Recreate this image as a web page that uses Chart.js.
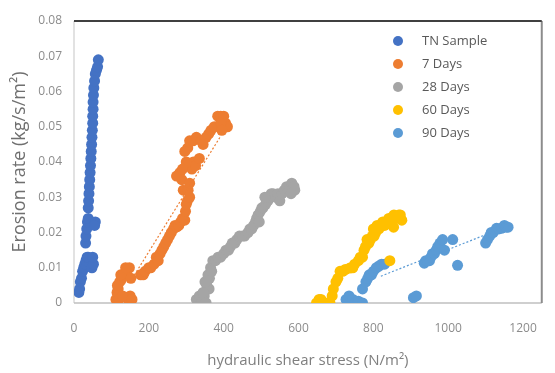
<!DOCTYPE html>
<html>
<head>
<meta charset="utf-8">
<script src="https://cdn.jsdelivr.net/npm/chart.js@4.4.1/dist/chart.umd.min.js"></script>
<style>
  html, body { margin: 0; padding: 0; background: #fff; }
  #wrap { width: 555px; height: 373px; }
</style>
</head>
<body>
<div id="wrap"><canvas id="c"></canvas></div>
<script>
const labels = ['TN Sample', '7 Days', '28 Days', '60 Days', '90 Days'];
const colors = ['#4472C4', '#ED7D31', '#A5A5A5', '#FFC000', '#5B9BD5'];
const xTicks = [0, 200, 400, 600, 800, 1000, 1200];

// TN Sample
const tnX = [13,15,17,20,23,26,29,32,35,38,48,52,50, 31,32,34,36,38,57,55,
  38,39,40,41,42,43,44,45,46,47,48,49,50,50,51,51,52,53,55,57,60,63,65];
const tnY = [0.003,0.004,0.006,0.007,0.009,0.010,0.011,0.012,0.013,0.013,0.010,0.011,0.013,
  0.017,0.019,0.021,0.023,0.024,0.023,0.022,
  0.027,0.029,0.031,0.033,0.035,0.037,0.039,0.041,0.043,0.045,0.047,0.049,0.051,0.053,0.055,0.057,0.059,0.061,0.063,0.065,0.066,0.067,0.069];

// 7 Days
const d7X = [112,115,118,122,126,132,140,148,152,150,145,120,130,116,125,138,155,
  178,185,190,200,205,214,220,225,230,235,240,245,250,255,260,266,270,275,280,285,290,296,298,300,303,309,292,305,283,288,274,309,315,319,325,335,300,
  304,309,318,327,340,353,360,366,375,384,392,400,405,410,392,395,345,290,296];
const d7Y = [0.001,0.003,0.004,0.006,0.0065,0.008,0.009,0.010,0.007,0.002,0.001,0.001,0.002,0.005,0.008,0.010,0.001,
  0.008,0.008,0.009,0.010,0.010,0.011,0.013,0.012,0.014,0.015,0.016,0.017,0.018,0.019,0.020,0.021,0.022,0.0216,0.022,0.023,0.024,0.0235,0.026,0.028,0.029,0.030,0.032,0.032,0.037,0.035,0.036,0.034,0.038,0.040,0.039,0.041,0.040,
  0.044,0.046,0.046,0.047,0.046,0.047,0.048,0.049,0.050,0.053,0.053,0.053,0.051,0.050,0.051,0.049,0.045,0.038,0.043];

// 28 Days
const d28X = [327,335,340,348,353,355,361,362,345,350,358,365,368,371,378,385,392,400,406,413,418,423,430,435,442,450,456,465,470,475,480,485,488,492,495,498,502,505,512,518,522,527,532,510,540,545,550,556,562,568,575,582,588,590,580];
const d28Y = [0.001,0.002,0.000,0.002,0.000,0.005,0.004,0.007,0.003,0.006,0.008,0.010,0.009,0.012,0.012,0.013,0.013,0.014,0.015,0.015,0.016,0.017,0.017,0.018,0.019,0.019,0.019,0.020,0.021,0.021,0.022,0.023,0.024,0.025,0.023,0.026,0.027,0.027,0.028,0.029,0.030,0.031,0.031,0.030,0.030,0.031,0.029,0.031,0.032,0.033,0.032,0.034,0.033,0.032,0.031];

// 60 Days
const d60X = [648,655,660,672,684,690,693,700,705,711,718,725,737,745,750,760,765,771,775,779,783,788,792,797,802,806,810,815,820,830,835,841,848,855,860,868,872,876,844,854,825,800];
const d60Y = [0.000,0.001,0.001,0.000,0.000,0.002,0.004,0.006,0.007,0.009,0.009,0.0095,0.0099,0.010,0.011,0.012,0.013,0.013,0.015,0.016,0.018,0.017,0.018,0.019,0.019,0.020,0.022,0.021,0.022,0.022,0.023,0.024,0.024,0.025,0.024,0.025,0.025,0.0235,0.012,0.0215,0.023,0.021];

// 90 Days
const d90X = [727,735,745,752,760,771,771,780,785,789,795,800,808,815,822,830,907,915,936,940,945,950,954,958,963,968,972,978,985,990,1012,1025,1100,1105,1111,1115,1120,1129,1135,1142,1150,1155,1160];
const d90Y = [0.001,0.002,0.001,0.000,0.0005,0.000,0.004,0.006,0.007,0.008,0.008,0.009,0.010,0.0105,0.011,0.011,0.0015,0.002,0.0113,0.012,0.012,0.012,0.013,0.014,0.014,0.015,0.016,0.017,0.018,0.015,0.018,0.0107,0.017,0.018,0.019,0.020,0.020,0.0212,0.021,0.0212,0.022,0.0215,0.0215];

// linear trendlines (end points)
const trend7X = [150, 390];
const trend7Y = [0.006, 0.047];
const trend90X = [820, 1160];
const trend90Y = [0.0076, 0.0219];

const seriesX = [tnX, d7X, d28X, d60X, d90X];
const seriesY = [tnY, d7Y, d28Y, d60Y, d90Y];

const toPts = (xs, ys) => xs.map((x, i) => ({ x: x, y: ys[i] }));

const FONT = "'Open Sans', sans-serif";

const datasets = [
  {
    type: 'line', label: 'trend7', data: toPts(trend7X, trend7Y),
    borderColor: '#ED7D31', borderWidth: 1.2, borderDash: [2, 2],
    pointRadius: 0, fill: false, order: 0
  },
  {
    type: 'line', label: 'trend90', data: toPts(trend90X, trend90Y),
    borderColor: '#5B9BD5', borderWidth: 1.2, borderDash: [2, 2],
    pointRadius: 0, fill: false, order: 0
  }
];
labels.forEach((l, i) => {
  datasets.push({
    label: l,
    data: toPts(seriesX[i], seriesY[i]),
    backgroundColor: colors[i],
    borderColor: colors[i],
    borderWidth: 0,
    pointRadius: 5.5,
    order: 1
  });
});

// frame + legend drawn inside plot area
const framePlugin = {
  id: 'frame',
  beforeDatasetsDraw(chart) {
    const { ctx, chartArea: a } = chart;
    ctx.save();
    ctx.lineWidth = 1.5;
    ctx.strokeStyle = '#d9d9d9';
    ctx.beginPath(); ctx.moveTo(a.left, a.top); ctx.lineTo(a.left, a.bottom); ctx.stroke();
    ctx.strokeStyle = '#bfbfbf';
    ctx.beginPath(); ctx.moveTo(a.left, a.bottom); ctx.lineTo(a.right, a.bottom); ctx.stroke();
    ctx.strokeStyle = '#8c8c8c';
    ctx.lineWidth = 2;
    ctx.beginPath(); ctx.moveTo(a.right, a.top); ctx.lineTo(a.right, a.bottom); ctx.stroke();
    ctx.strokeStyle = '#404040';
    ctx.beginPath(); ctx.moveTo(a.left, a.top); ctx.lineTo(a.right, a.top); ctx.stroke();
    ctx.restore();
  },
  afterDraw(chart) {
    const { ctx } = chart;
    ctx.save();
    ctx.font = '13px ' + FONT;
    ctx.textBaseline = 'middle';
    labels.forEach((l, i) => {
      const y = 41 + i * 23;
      ctx.fillStyle = colors[i];
      ctx.beginPath(); ctx.arc(398, y, 5, 0, Math.PI * 2); ctx.fill();
      ctx.fillStyle = '#595959';
      ctx.fillText(l, 422, y);
    });
    ctx.restore();
  }
};

const ctx = document.getElementById('c').getContext('2d');
const chart = new Chart(ctx, {
  type: 'scatter',
  data: { datasets: datasets },
  plugins: [framePlugin],
  options: {
    responsive: true,
    maintainAspectRatio: false,
    animation: false,
    layout: { padding: { top: 21, right: 3, left: 0, bottom: 0 } },
    plugins: {
      legend: { display: false },
      tooltip: { enabled: false }
    },
    scales: {
      x: {
        type: 'linear',
        min: 0,
        max: 1250,
        afterBuildTicks: (scale) => { scale.ticks = xTicks.map(v => ({ value: v })); },
        afterFit: (scale) => { scale.height = 70; },
        grid: { display: false, drawTicks: false },
        border: { display: false },
        ticks: {
          color: '#8c8c8c', padding: 18, font: { family: FONT, size: 12 },
          callback: (v) => String(v)
        },
        title: {
          display: true,
          text: 'hydraulic shear stress (N/m²)',
          color: '#7f7f7f',
          padding: { top: 0, bottom: 3 },
          font: { family: FONT, size: 15 }
        }
      },
      y: {
        min: 0,
        max: 0.08,
        afterFit: (scale) => { scale.width = 74; },
        grid: { display: false, drawTicks: false },
        border: { display: false },
        ticks: {
          stepSize: 0.01,
          color: '#8c8c8c',
          padding: 12,
          font: { family: FONT, size: 12 },
          callback: (v) => v === 0 ? '0' : v.toFixed(2)
        },
        title: {
          display: true,
          text: 'Erosion rate (kg/s/m²)',
          color: '#6f6f6f',
          padding: { top: 9, bottom: 0 },
          font: { family: FONT, size: 18 }
        }
      }
    }
  }
});
</script>
</body>
</html>
